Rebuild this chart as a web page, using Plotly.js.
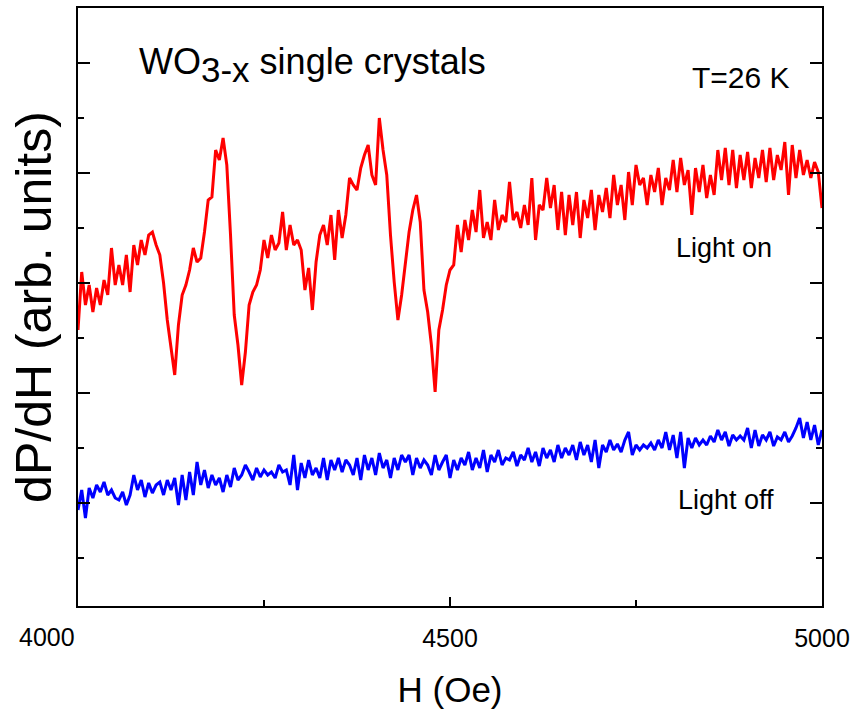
<!DOCTYPE html>
<html>
<head>
<meta charset="utf-8">
<script src="https://cdn.plot.ly/plotly-3.0.1.min.js"></script>
<style>html,body{margin:0;padding:0;background:#fff;}#chart{width:862px;height:727px;}</style>
</head>
<body>
<div id="chart"></div>
<script>
// Field values (Oe), 5 Oe steps from 4000 to 5000
var fieldStart = 4000;
var fieldStep = 5;

// dP/dH, arbitrary units, light on
var lightOn = [276,334,301,321,294,318,301,326,311,358,321,341,321,351,314,361,341,366,351,371,
374,361,351,323,286,261,231,281,311,321,336,358,344,348,374,406,409,456,446,468,
441,371,291,261,221,254,301,314,321,336,366,348,371,356,363,394,356,381,361,366,
356,316,338,296,344,371,381,361,391,346,396,368,391,428,421,416,438,451,461,431,
421,488,456,431,371,324,286,311,346,374,396,411,384,316,294,261,214,276,296,321,
336,341,381,354,386,366,396,374,416,368,384,366,406,376,391,384,424,386,394,378,
401,381,428,366,401,396,428,398,421,376,414,371,411,381,414,368,406,388,416,376,
411,394,418,388,431,401,421,386,434,401,441,421,428,401,431,414,438,401,428,416,
446,414,448,421,436,391,438,414,441,408,431,411,456,426,458,421,456,418,451,426,
454,418,448,428,456,424,458,426,451,436,464,411,461,428,456,431,446,428,444,434,398];

// dP/dH, arbitrary units, light off
var lightOff = [96,116,88,118,108,121,114,124,111,116,108,106,114,101,111,131,116,126,109,123,
113,121,124,111,126,116,128,101,131,106,134,111,144,121,136,118,131,121,128,114,
131,119,138,126,131,141,134,126,138,129,136,131,134,128,141,134,136,121,151,116,
143,128,146,131,138,128,148,126,146,136,148,134,146,141,131,148,126,151,136,148,
131,153,138,146,128,148,136,151,144,151,131,148,138,146,141,131,151,136,144,151,
128,146,136,148,141,154,136,148,138,156,134,151,144,156,141,148,146,154,140,151,
146,158,144,154,140,158,148,156,144,161,148,158,151,161,146,164,151,161,144,166,
138,161,154,166,156,162,154,166,174,151,161,156,161,158,163,156,166,158,174,156,
171,148,174,138,168,158,168,161,166,161,170,164,176,166,174,160,171,166,170,166,
178,158,176,160,171,166,174,160,169,166,174,164,170,178,188,168,184,166,181,161,176];

var xTickVals = [4500, 5000];
var xTickText = ['4500', '5000'];
var firstTickLabel = '4000';   // drawn as an annotation (offset left in the original)
var xMinorTicks = [4250, 4750];
var yMajorTicks = [103, 213, 323, 433, 543];
var yMinorTicks = [48, 158, 268, 378, 488];

var field = lightOn.map(function(_, i){ return fieldStart + fieldStep * i; });

var font = 'Liberation Sans, Arial, sans-serif';

var traces = [
  {x: field, y: lightOn, type: 'scatter', mode: 'lines', line: {color: '#ff0000', width: 3}, hoverinfo: 'skip'},
  {x: field, y: lightOff, type: 'scatter', mode: 'lines', line: {color: '#0000ff', width: 3}, hoverinfo: 'skip'}
];

var layout = {
  width: 862, height: 727,
  margin: {l: 78, r: 40, t: 8, b: 121},
  paper_bgcolor: '#fff', plot_bgcolor: '#fff',
  showlegend: false,
  font: {family: font, color: '#000'},
  xaxis: {
    range: [4000, 5000],
    tickmode: 'array', tickvals: xTickVals, ticktext: xTickText,
    ticks: 'inside', ticklen: 9, tickwidth: 1.3, tickcolor: '#000',
    minor: {tickmode: 'array', tickvals: xMinorTicks, ticks: 'inside', ticklen: 6, tickwidth: 1.3, tickcolor: '#000', showgrid: false},
    showline: true, linecolor: '#000', linewidth: 2, mirror: true,
    showgrid: false, zeroline: false,
    tickfont: {size: 25, family: font, color: '#000'},
    ticklabelstandoff: 9,
    title: {text: 'H (Oe)', font: {size: 35, family: font, color: '#000'}, standoff: 26}
  },
  yaxis: {
    range: [0, 598],
    tickmode: 'array', tickvals: yMajorTicks,
    ticks: 'inside', ticklen: 12, tickwidth: 1.3, tickcolor: '#000',
    minor: {tickmode: 'array', tickvals: yMinorTicks, ticks: 'inside', ticklen: 6, tickwidth: 1.3, tickcolor: '#000', showgrid: false},
    showline: true, linecolor: '#000', linewidth: 2, mirror: 'ticks',
    showgrid: false, zeroline: false, showticklabels: false,
    title: {text: 'dP/dH (arb. units)', font: {size: 50, family: font, color: '#000'}, standoff: 9}
  },
  annotations: [
    {xref: 'paper', yref: 'paper', x: -0.041, y: -0.052, xanchor: 'center', yanchor: 'middle', showarrow: false,
     text: firstTickLabel, font: {size: 25, family: font, color: '#000'}},
    {xref: 'paper', yref: 'paper', x: 0.079, y: 0.905, xanchor: 'left', yanchor: 'middle', showarrow: false,
     text: 'WO<sub><span style="font-size:35px">3-x</span></sub> single crystals', font: {size: 36, family: font, color: '#000'}},
    {xref: 'paper', yref: 'paper', x: 0.891, y: 0.883, xanchor: 'center', yanchor: 'middle', showarrow: false,
     text: 'T=26 K', font: {size: 30, family: font, color: '#000'}},
    {xref: 'paper', yref: 'paper', x: 0.868, y: 0.599, xanchor: 'center', yanchor: 'middle', showarrow: false,
     text: 'Light on', font: {size: 27, family: font, color: '#000'}},
    {xref: 'paper', yref: 'paper', x: 0.871, y: 0.177, xanchor: 'center', yanchor: 'middle', showarrow: false,
     text: 'Light off', font: {size: 27, family: font, color: '#000'}}
  ]
};

Plotly.newPlot('chart', traces, layout, {staticPlot: true, displayModeBar: false});
</script>
</body>
</html>
